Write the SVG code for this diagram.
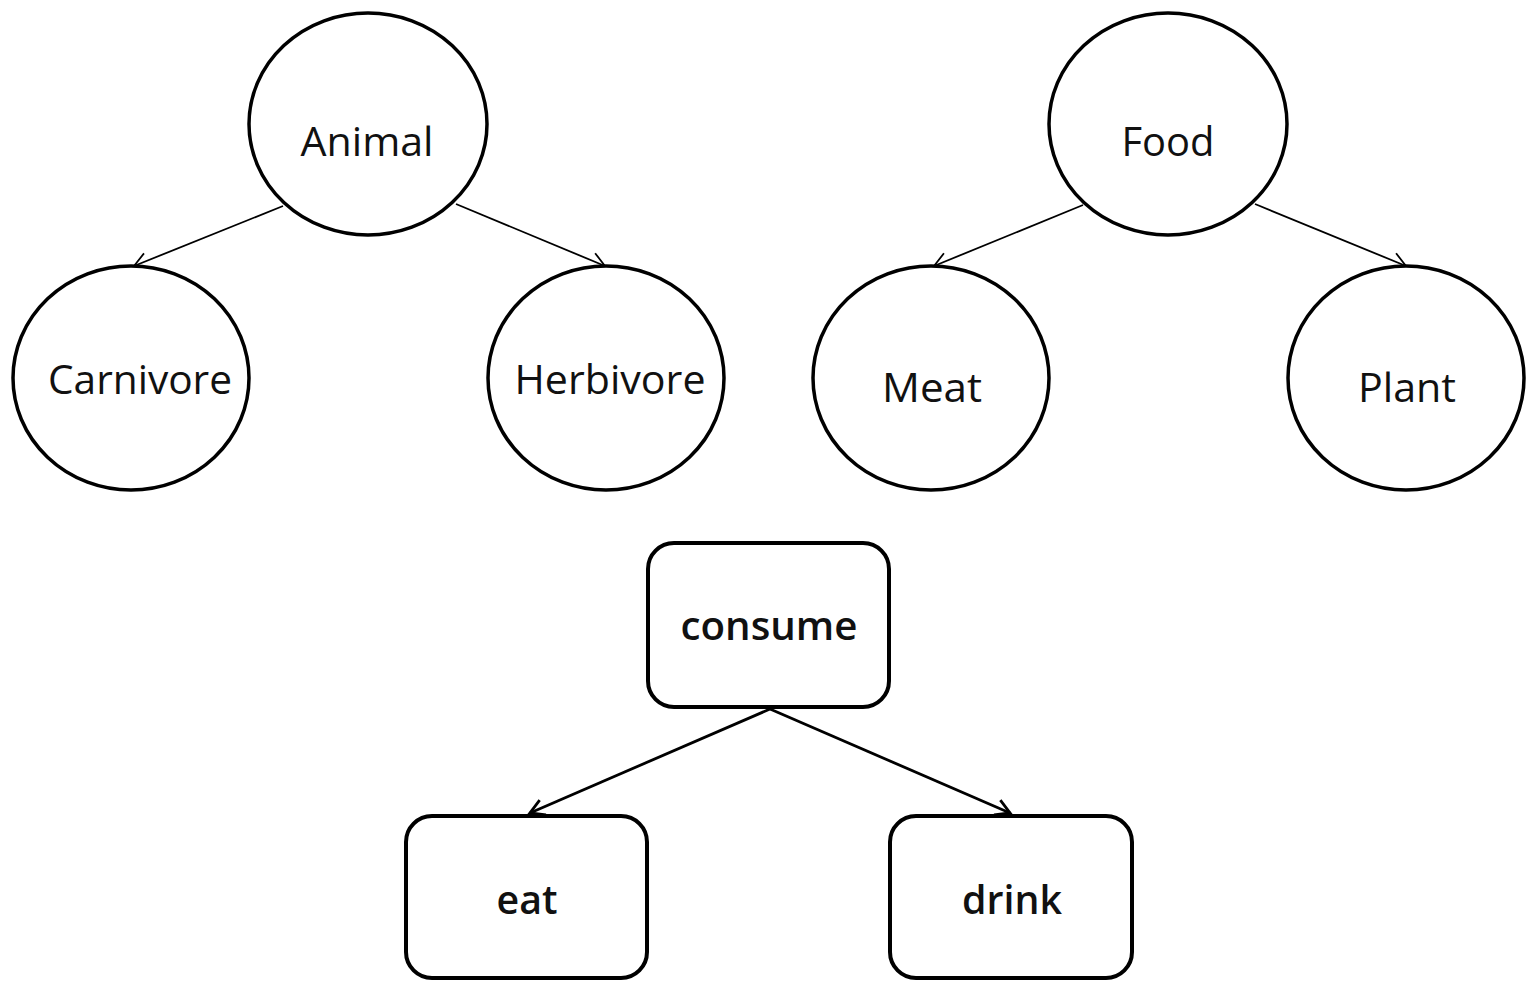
<svg xmlns="http://www.w3.org/2000/svg" width="1533" height="981" viewBox="0 0 1533 981">
<style>
.c{fill:#fff;stroke:#000;stroke-width:3.5}
.r{fill:#fff;stroke:#000;stroke-width:4}
.t{font-family:"Open Sans","Noto Sans",sans-serif;font-size:40px;fill:#111;text-anchor:middle}
.b{font-weight:600}
.e1{stroke:#000;stroke-width:1.8;fill:none;marker-end:url(#a1)}
.e2{stroke:#000;stroke-width:2.8;fill:none;marker-end:url(#a2)}
</style>
<defs>
<marker id="a1" markerUnits="userSpaceOnUse" markerWidth="30" markerHeight="30" refX="15" refY="10" orient="auto" viewBox="0 0 30 20">
<path d="M1,2 L15,10 L1,18" fill="none" stroke="#000" stroke-width="1.8"/>
</marker>
<marker id="a2" markerUnits="userSpaceOnUse" markerWidth="30" markerHeight="30" refX="15" refY="10" orient="auto" viewBox="0 0 30 20">
<path d="M1,2 L15,10 L1,18" fill="none" stroke="#000" stroke-width="2.8"/>
</marker>
</defs>
<g id="connectors">
<line class="e1" x1="283" y1="206" x2="134" y2="266"/>
<line class="e1" x1="456" y1="204" x2="605" y2="266"/>
<line class="e1" x1="1083" y1="205" x2="934" y2="266"/>
<line class="e1" x1="1255" y1="204" x2="1406" y2="266"/>
<line class="e2" x1="770" y1="709" x2="530" y2="813"/>
<line class="e2" x1="770" y1="709" x2="1010" y2="813"/>
</g>
<g id="animal"><ellipse class="c" cx="368" cy="124" rx="119" ry="111"/><text class="t" x="367" y="156" textLength="133" lengthAdjust="spacingAndGlyphs">Animal</text></g>
<g id="carnivore"><ellipse class="c" cx="131" cy="378" rx="118" ry="112"/><text class="t" x="140" y="394" textLength="184" lengthAdjust="spacingAndGlyphs">Carnivore</text></g>
<g id="herbivore"><ellipse class="c" cx="606" cy="378" rx="118" ry="112"/><text class="t" x="610" y="394" textLength="191" lengthAdjust="spacingAndGlyphs">Herbivore</text></g>
<g id="food"><ellipse class="c" cx="1168" cy="124" rx="119" ry="111"/><text class="t" x="1168" y="156" textLength="93" lengthAdjust="spacingAndGlyphs">Food</text></g>
<g id="meat"><ellipse class="c" cx="931" cy="378" rx="118" ry="112"/><text class="t" x="932" y="402" textLength="100" lengthAdjust="spacingAndGlyphs">Meat</text></g>
<g id="plant"><ellipse class="c" cx="1406" cy="378" rx="118" ry="112"/><text class="t" x="1407" y="402" textLength="98" lengthAdjust="spacingAndGlyphs">Plant</text></g>
<g id="consume"><rect class="r" x="648" y="543" width="241" height="164" rx="26"/><text class="t b" x="769" y="640" textLength="177" lengthAdjust="spacingAndGlyphs">consume</text></g>
<g id="eat"><rect class="r" x="406" y="816" width="241" height="162" rx="26"/><text class="t b" x="527" y="914" textLength="61" lengthAdjust="spacingAndGlyphs">eat</text></g>
<g id="drink"><rect class="r" x="890" y="816" width="242" height="162" rx="26"/><text class="t b" x="1012" y="914" textLength="100" lengthAdjust="spacingAndGlyphs">drink</text></g>
</svg>
